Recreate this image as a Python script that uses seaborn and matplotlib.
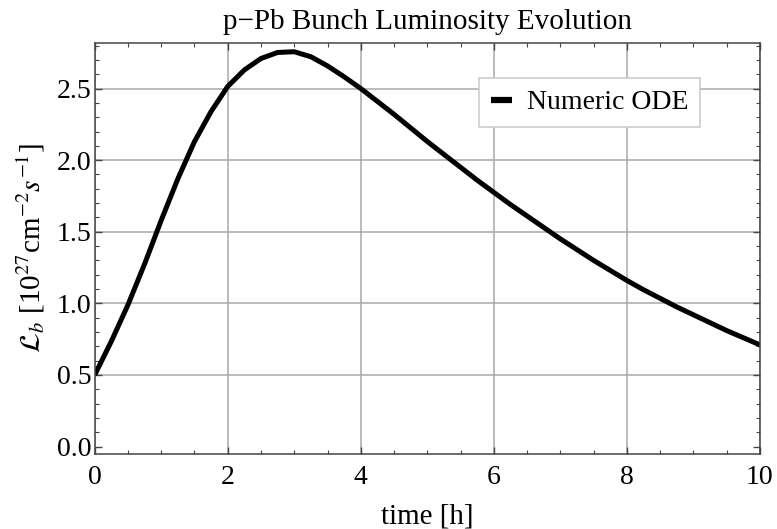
import matplotlib
matplotlib.use("Agg")
import matplotlib.pyplot as plt
import seaborn as sns
import pandas as pd
from matplotlib.ticker import MultipleLocator, FormatStrFormatter

# Data
time_h = [0.0, 0.25, 0.5, 0.75, 1.0, 1.25, 1.5, 1.75, 2.0, 2.25, 2.5, 2.75,
          3.0, 3.25, 3.5, 3.75, 4.0, 4.25, 4.5, 4.75, 5.0, 5.25, 5.5, 5.75,
          6.0, 6.25, 6.5, 6.75, 7.0, 7.25, 7.5, 7.75, 8.0, 8.25, 8.5, 8.75,
          9.0, 9.25, 9.5, 9.75, 10.0]
lumi = [0.50, 0.735, 0.99, 1.275, 1.58, 1.87, 2.13, 2.34, 2.515, 2.63, 2.71, 2.752,
        2.757, 2.722, 2.658, 2.582, 2.50, 2.41, 2.32, 2.225, 2.13, 2.04, 1.95, 1.86,
        1.775, 1.69, 1.61, 1.53, 1.45, 1.375, 1.30, 1.23, 1.16, 1.095, 1.035, 0.975,
        0.92, 0.865, 0.81, 0.76, 0.71]
series_name = "Numeric ODE"
title = "p\u2212Pb Bunch Luminosity Evolution"
x_label = "time [h]"
y_label = r"$\mathcal{L}_b$ [10$^{27}$cm$^{-2}$$s^{-1}$]"

df = pd.DataFrame({"t": time_h, "L": lumi, "s": series_name})

sns.set_style("ticks")
plt.rcParams["font.family"] = ["Liberation Serif", "DejaVu Serif"]
plt.rcParams["mathtext.fontset"] = "stix"
plt.rcParams["text.color"] = "black"
plt.rcParams["axes.labelcolor"] = "black"
plt.rcParams["xtick.color"] = "#444444"
plt.rcParams["ytick.color"] = "#444444"
plt.rcParams["xtick.labelcolor"] = "black"
plt.rcParams["ytick.labelcolor"] = "black"

fig = plt.figure(figsize=(7.77, 5.29), dpi=100)
ax = fig.add_axes([0.1219, 0.1418, 0.978 - 0.1219, 0.9187 - 0.1418])

sns.lineplot(data=df, x="t", y="L", hue="s", palette=["black"], linewidth=3.6,
             ax=ax, legend=True)
for ln in ax.get_lines():
    ln.set_solid_joinstyle("round")
    ln.set_solid_capstyle("butt")

ax.set_xlim(0, 10)
ax.set_ylim(-0.052, 2.818)
ax.xaxis.set_major_locator(MultipleLocator(2))
ax.xaxis.set_minor_locator(MultipleLocator(0.5))
ax.yaxis.set_major_locator(MultipleLocator(0.5))
ax.yaxis.set_minor_locator(MultipleLocator(0.1))
ax.yaxis.set_major_formatter(FormatStrFormatter("%.1f"))
ax.xaxis.set_major_formatter(FormatStrFormatter("%d"))

ax.tick_params(which="both", direction="in", top=True, right=True,
               labelsize=20)
ax.tick_params(axis="x", which="major", pad=8)
ax.tick_params(axis="y", which="major", pad=2.5)
ax.tick_params(which="major", length=5, width=1)
ax.tick_params(which="minor", length=2.8, width=0.8)

ax.grid(True, which="major", color="#a8a8a8", linewidth=1.1)
for gl, v in zip(ax.get_ygridlines(), ax.get_yticks()):
    if abs(v) < 1e-9:
        gl.set_visible(False)

for sp in ax.spines.values():
    sp.set_color("#444444")
    sp.set_linewidth(1.1)

ax.set_title(title, fontsize=21, pad=10)
ax.set_xlabel(x_label, fontsize=21, labelpad=10)
ax.set_ylabel(y_label, fontsize=21, labelpad=7)

leg = ax.legend(loc="upper right", bbox_to_anchor=(0.91, 0.914), fontsize=20,
                frameon=True, fancybox=False, handlelength=0.75,
                handletextpad=0.55, borderpad=0.42, borderaxespad=0,
                edgecolor="#cccccc", framealpha=1.0)
leg.get_frame().set_linewidth(1.2)
for line in leg.get_lines():
    line.set_linewidth(4.5)

fig.savefig("out.png", dpi=100)
